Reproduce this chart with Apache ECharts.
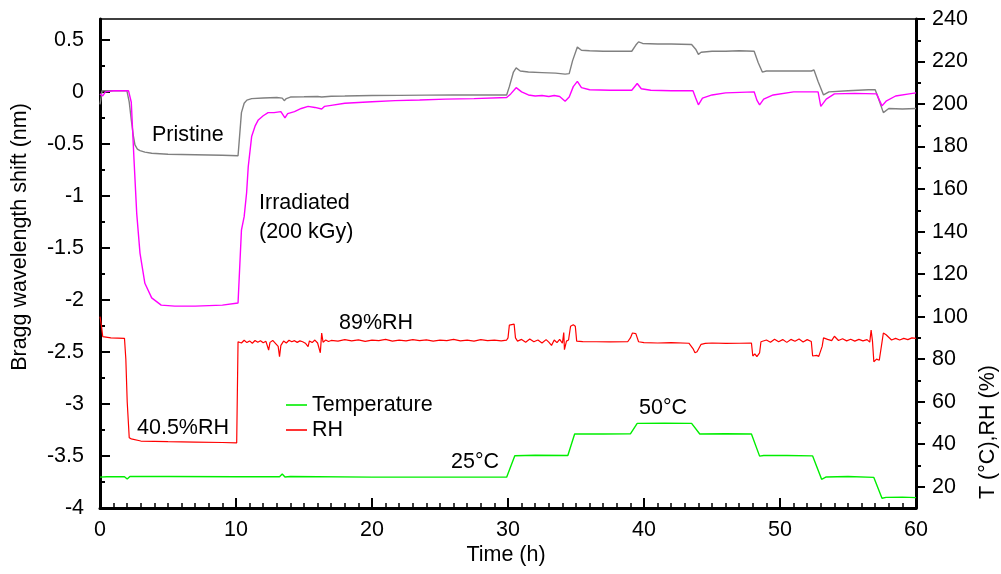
<!DOCTYPE html>
<html>
<head>
<meta charset="utf-8">
<script src="https://cdn.jsdelivr.net/npm/echarts@6/dist/echarts.min.js"></script>
<style>html,body{margin:0;padding:0;background:#fff}#c{width:1001px;height:574px}</style>
</head>
<body>
<div id="c"></div>
<script>
// ---- data (time in h, value) ----
const pristine = [[0,-0.12],[0.15,0.01],[1,0.012],[1.98,0.01],[2.15,-0.1],[2.3,-0.27],[2.45,-0.42],[2.57,-0.51],[2.75,-0.55],[2.94,-0.565],[3.3,-0.58],[3.8,-0.59],[5,-0.6],[7,-0.605],[9,-0.61],[10.15,-0.615],[10.25,-0.45],[10.4,-0.2],[10.6,-0.11],[10.8,-0.08],[11.15,-0.065],[12,-0.06],[13,-0.055],[13.4,-0.06],[13.55,-0.085],[13.7,-0.065],[14,-0.05],[15,-0.048],[16,-0.045],[16.3,-0.05],[16.4,-0.04],[17,-0.042],[18,-0.04],[20,-0.035],[22,-0.034],[24,-0.032],[26,-0.031],[28,-0.03],[29.9,-0.03],[30.1,0.05],[30.4,0.19],[30.6,0.23],[30.9,0.2],[31.5,0.19],[32.5,0.185],[33.5,0.18],[34.2,0.17],[34.3,0.155],[34.5,0.175],[34.75,0.3],[35.1,0.43],[35.4,0.4],[36,0.395],[37,0.39],[38,0.39],[39.1,0.39],[39.4,0.45],[39.6,0.48],[39.9,0.465],[41,0.46],[42,0.46],[43.5,0.455],[43.8,0.41],[44,0.36],[44.2,0.38],[45,0.39],[46,0.39],[47,0.395],[48.1,0.39],[48.4,0.28],[48.7,0.19],[49,0.2],[50,0.2],[51,0.2],[52.3,0.2],[52.5,0.21],[52.8,0.1],[53.2,-0.03],[53.6,0.0],[55,0.01],[56.5,0.02],[57.0,0.02],[57.2,-0.05],[57.6,-0.2],[58,-0.16],[59,-0.165],[60,-0.16]];

const irradiated = [[0,-0.02],[0.2,-0.04],[0.4,0.0],[1,0.01],[2.1,0.01],[2.3,-0.1],[2.5,-0.65],[2.7,-1.17],[2.94,-1.55],[3.3,-1.84],[3.8,-1.98],[4.5,-2.05],[5.5,-2.06],[7,-2.06],[9,-2.05],[10.15,-2.03],[10.4,-1.33],[10.6,-1.2],[10.78,-0.97],[10.9,-0.72],[11.15,-0.43],[11.4,-0.33],[11.64,-0.27],[12.0,-0.23],[12.36,-0.2],[12.8,-0.2],[13.3,-0.19],[13.6,-0.25],[13.8,-0.21],[14.3,-0.19],[14.8,-0.16],[15.3,-0.14],[15.8,-0.15],[16.3,-0.165],[16.5,-0.14],[17,-0.13],[18,-0.11],[20,-0.095],[21.7,-0.085],[23.5,-0.078],[25.4,-0.07],[27.5,-0.065],[29.9,-0.055],[30.2,-0.02],[30.6,0.04],[31,0.0],[31.5,-0.03],[32,-0.04],[32.5,-0.035],[33,-0.045],[33.4,-0.035],[33.8,-0.045],[34.2,-0.09],[34.5,-0.05],[34.8,0.05],[35.1,0.1],[35.4,0.04],[36,0.02],[37.5,0.015],[39.1,0.015],[39.5,0.08],[39.8,0.03],[40.5,0.015],[42,0.01],[43.6,0.01],[43.8,-0.06],[44.0,-0.125],[44.3,-0.06],[45,-0.03],[46,-0.01],[48.1,0.0],[48.3,-0.08],[48.5,-0.125],[48.8,-0.07],[49.5,-0.03],[51,0.0],[52.8,0.0],[53.0,-0.14],[53.4,-0.07],[54,-0.02],[55.5,-0.015],[57.1,-0.02],[57.5,-0.135],[57.8,-0.09],[58.5,-0.04],[59.5,-0.02],[60,-0.01]];

const temperature = [[0,24.5],[0.5,24.7],[1.8,24.7],[2.0,23.6],[2.2,24.8],[5,24.8],[10,24.7],[13.2,24.7],[13.4,26],[13.6,24.6],[14,24.8],[20,24.5],[25,24.5],[29.9,24.5],[30.5,34.6],[32,34.8],[34.4,34.7],[34.9,44.8],[37,44.8],[39.0,44.9],[39.5,49.8],[41.5,49.9],[43.5,49.8],[44.1,44.8],[46,44.9],[47.9,44.8],[48.5,34.4],[48.8,34.7],[50.5,34.7],[52.4,34.5],[53.06,23.5],[53.4,24.6],[55,24.8],[56.9,24.4],[57.5,14.6],[57.8,15.0],[59,15.1],[60,14.9]];

const rh = [[0,100],[0.1,96],[0.2,90.6],[0.8,90],[1.8,89.8],[1.9,80],[2.0,60],[2.15,43],[2.3,42.5],[3,41.5],[5,41.2],[7,41],[9,40.8],[10.05,40.6],[10.15,88.2],
[10.2,88.5],[10.4,87.6],[10.6,88.9],[10.8,87.8],[11.0,88.6],[11.2,87.5],[11.4,88.8],[11.6,88.0],[11.8,88.7],[12.0,87.7],[12.2,88.4],[12.4,84.3],[12.5,87.9],[12.7,88.8],[12.9,87.4],[13.1,86.0],[13.2,81.2],[13.3,86.5],[13.5,88.5],[13.7,87.6],[13.9,88.9],[14.1,88.2],[14.3,88.7],[14.5,87.9],[14.7,88.6],[14.9,88.2],[15.1,87.5],[15.3,85.9],[15.4,88.6],[15.6,87.8],[15.8,89.0],[16.0,87.6],[16.2,83.0],[16.3,92.3],[16.4,88.0],[16.6,89.0],[16.8,88.3],[17.0,88.8],
[17.5,88.5],[18,89.2],[18.5,88.6],[19,89.1],[19.5,88.4],[20,89.0],[20.5,88.7],[21,89.3],[21.5,88.5],[22,89.0],[22.5,88.6],[23,89.2],[23.5,88.7],[24,89.1],[24.5,88.5],[25,89.0],[25.5,88.7],[26,89.3],[26.5,88.6],[27,89.0],[27.5,88.5],[28,89.2],[28.5,88.7],[29,89.0],[29.5,88.6],[29.9,89.0],
[30.0,90],[30.1,96],[30.2,96.8],[30.45,96.5],[30.55,90],[30.7,88.5],[31,89.3],[31.3,88.0],[31.6,89.5],[31.9,88.2],[32.2,89.0],[32.5,87.6],[32.8,89.2],[33.0,88.0],[33.2,86.5],[33.4,89.0],[33.6,87.8],[33.8,89.3],[34.0,87.5],[34.1,92.5],[34.15,84.5],[34.3,88.5],[34.45,89.0],[34.6,95.5],[34.8,96.2],[34.95,95.5],[35.05,88.5],[35.5,88.3],[36.5,88.2],[37.5,88.1],[38.8,88.2],[39.0,90],[39.15,92.3],[39.4,92.0],[39.6,88.2],[40,87.8],[41,87.6],[42,87.8],[43.3,87.5],[43.6,85],[43.75,83],[43.9,83.5],[44.2,87.0],[44.5,87.4],[45,87.6],[46,87.4],[47,87.5],[47.9,87.6],[48.0,81.5],[48.15,82.5],[48.3,81.2],[48.5,83],[48.6,88.2],[49.0,89.0],[49.3,88.0],[49.6,89.4],[49.9,88.2],[50.2,89.2],[50.5,87.9],[50.8,89.3],[51.1,88.4],[51.4,89.5],[51.7,88.1],[52.0,89.2],[52.3,88.3],[52.4,81.5],[52.7,81.8],[52.85,81.3],[53.1,86],[53.2,90],[53.5,89.3],[53.8,88.7],[54,90.8],[54.3,88.8],[54.6,89.6],[54.9,88.6],[55.2,89.4],[55.5,88.5],[55.8,89.3],[56.1,88.6],[56.4,89.2],[56.6,88.0],[56.7,93.7],[56.8,88.5],[56.9,78.8],[57.1,80],[57.3,79.5],[57.5,88],[57.6,92.3],[57.8,91.5],[58.2,89],[58.5,89.8],[58.8,89.0],[59.1,89.8],[59.4,89.2],[59.7,90.0],[60,89.8]];

// ---- tick labels ----
const leftTicks = [-4,-3.5,-3,-2.5,-2,-1.5,-1,-0.5,0,0.5];
const leftMinor = [-3.75,-3.25,-2.75,-2.25,-1.75,-1.25,-0.75,-0.25,0.25];
const rightTicks = [20,40,60,80,100,120,140,160,180,200,220,240];
const rightMinor = [30,50,70,90,110,130,150,170,190,210,230];

const FONT = "'Liberation Sans', Arial, sans-serif";
const FS = 21.5;
const chart = echarts.init(document.getElementById('c'), null, {renderer: 'canvas'});

function yAx(pos, min, max, ticks, len, inside, labels, line) {
  return {
    type: 'value', position: pos, min: min, max: max, offset: 0,
    axisLine: {show: line, onZero: false, lineStyle: {color: '#000', width: 3}},
    axisTick: {show: true, inside: inside, length: len, customValues: ticks, lineStyle: {color: '#000', width: 2}},
    axisLabel: {show: labels, customValues: ticks, color: '#000', fontSize: FS, fontFamily: FONT, margin: 16},
    splitLine: {show: false}
  };
}

const lineOpt = (name, data, yi, color, w) => ({
  name: name, type: 'line', data: data, yAxisIndex: yi, xAxisIndex: 0,
  symbol: 'none', showSymbol: false, animation: false,
  lineStyle: {color: color, width: w}, itemStyle: {color: color}
});

const txt = (t, x, y, extra) => Object.assign({
  type: 'text', x: x, y: y,
  style: {text: t, fill: '#000', font: FS + 'px ' + FONT, textVerticalAlign: 'middle', verticalAlign: 'middle'}
}, extra || {});

const rotTxt = (t, x, y) => ({
  type: 'text', x: x, y: y, rotation: Math.PI / 2,
  style: {text: t, fill: '#000', font: FS + 'px ' + FONT, align: 'center', textAlign: 'center', verticalAlign: 'middle', textVerticalAlign: 'middle'}
});

chart.setOption({
  backgroundColor: '#fff',
  animation: false,
  grid: {left: 100, right: 85, top: 19, bottom: 66},
  xAxis: [
    {type: 'value', position: 'bottom', min: 0, max: 60, interval: 10,
     axisLine: {show: true, onZero: false, lineStyle: {color: '#000', width: 3}},
     axisTick: {show: true, inside: true, length: 10, lineStyle: {color: '#000', width: 2}},
     minorTick: {show: true, splitNumber: 10, length: 5, lineStyle: {color: '#000', width: 1.5}},
     axisLabel: {color: '#000', fontSize: FS, fontFamily: FONT, margin: 11},
     splitLine: {show: false}},
    {type: 'value', position: 'top', min: 0, max: 60,
     axisLine: {show: true, onZero: false, lineStyle: {color: '#000', width: 1.5}},
     axisTick: {show: false}, axisLabel: {show: false}, splitLine: {show: false}}
  ],
  yAxis: [
    yAx('left', -4, 0.7, leftTicks, 10, true, true, true),
    yAx('right', 10, 240, rightTicks, 9, false, true, true),
    yAx('left', -4, 0.7, leftMinor, 5, true, false, false),
    yAx('right', 10, 240, rightMinor, 5, false, false, false)
  ],
  legend: {
    data: [{name: 'Temperature', icon: 'rect'}, {name: 'RH', icon: 'rect'}],
    orient: 'vertical', left: 281, top: 389,
    itemWidth: 21, itemHeight: 1.6, itemGap: 3,
    textStyle: {color: '#000', fontSize: FS, fontFamily: FONT}
  },
  series: [
    lineOpt('Pristine', pristine, 0, '#808080', 1.4),
    lineOpt('Irradiated', irradiated, 0, '#ff00ff', 1.4),
    lineOpt('Temperature', temperature, 1, '#00ee00', 1.4),
    lineOpt('RH', rh, 1, '#ff0000', 1.2)
  ],
  graphic: [
    txt('Pristine', 152, 135),
    txt('Irradiated', 259, 203),
    txt('(200 kGy)', 259, 232),
    txt('89%RH', 339, 323),
    txt('40.5%RH', 137, 428),
    txt('25°C', 451, 462),
    txt('50°C', 639, 408),
    rotTxt('Bragg wavelength shift (nm)', 20, 237),
    rotTxt('T (°C),RH (%)', 988, 432),
    {type: 'text', x: 506, y: 555,
     style: {text: 'Time (h)', fill: '#000', font: FS + 'px ' + FONT, align: 'center', textAlign: 'center', verticalAlign: 'middle', textVerticalAlign: 'middle'}}
  ]
});
</script>
</body>
</html>
